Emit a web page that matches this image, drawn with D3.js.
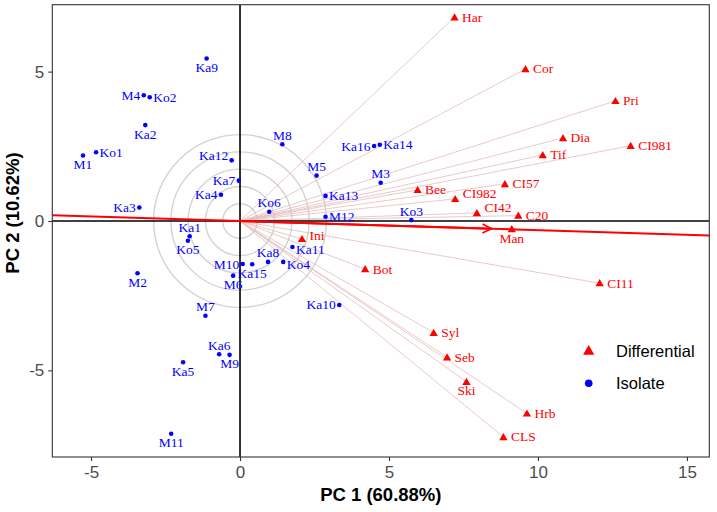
<!DOCTYPE html>
<html>
<head>
<meta charset="utf-8">
<script src="https://cdn.jsdelivr.net/npm/d3@7"></script>
<style>
  html, body { margin: 0; padding: 0; background: #fff; }
  svg { display: block; }
</style>
</head>
<body>
<script>
// ---------------- data ----------------
const isoNames = ["Ka9","M4","Ko2","Ka2","Ko1","M1","Ka12","M8","Ka16","Ka14","M5","M3","Ka13","Ko6","M12","Ko3","Ka11","Ka8","Ko4","M10","Ka15","M6","Ka7","Ka4","Ka3","Ka1","Ko5","M2","M7","Ka6","M9","Ka5","M11","Ka10"];
const isoPC1 = [-1.12,-3.23,-3.03,-3.18,-4.83,-5.27,-0.28,1.42,4.50,4.69,2.57,4.72,2.87,0.98,2.87,5.75,1.76,0.94,1.45,0.09,0.41,-0.23,-0.04,-0.64,-3.38,-1.69,-1.75,-3.44,-1.16,-0.70,-0.35,-1.91,-2.31,3.33];
const isoPC2 = [5.44,4.21,4.14,3.21,2.30,2.19,2.03,2.57,2.51,2.55,1.52,1.28,0.84,0.31,0.14,0.03,-0.87,-1.37,-1.37,-1.44,-1.45,-1.83,1.35,0.88,0.45,-0.51,-0.66,-1.75,-3.17,-4.46,-4.48,-4.73,-7.12,-2.81];
// label side relative to the point: r = right, l = left, t = top, b = bottom,
// lt = left & raised, rt / ru = right & raised, rb = right & lowered
const isoLabelSide = ["b","l","r","b","r","b","lt","t","l","r","t","t","r","t","r","t","rb","t","rb","l","b","b","l","l","l","t","b","b","t","t","b","b","b","l"];

const difNames = ["Har","Cor","Pri","Dia","Tif","CI981","CI57","CI982","CI42","C20","Man","Bee","Ini","Bot","CI11","Syl","Seb","Ski","Hrb","CLS"];
const difPC1 = [7.20,9.58,12.60,10.84,10.16,13.11,8.89,7.22,7.95,9.34,9.12,5.96,2.08,4.20,12.07,6.50,6.95,7.60,9.63,8.84];
const difPC2 = [6.82,5.09,4.02,2.78,2.21,2.52,1.24,0.74,0.27,0.18,-0.27,1.04,-0.60,-1.61,-2.08,-3.74,-4.56,-5.38,-6.44,-7.23];
const difLabelSide = ["r","r","r","r","r","r","r","ru","ru","r","b","r","rt","r","r","r","r","b","r","r"];

const meanVector = [8.44, -0.26];         // red direction arrow
const circleRadii = [0.58, 1.16, 1.74, 2.32, 2.90];
const xTicks = [-5, 0, 5, 10, 15];
const yTicks = [-5, 0, 5];
const xTitle = "PC 1 (60.88%)";
const yTitle = "PC 2 (10.62%)";
const legendLabels = ["Differential", "Isolate"];

// ---------------- layout ----------------
const W = 717, H = 512;
const panel = {left: 52.3, right: 709.3, top: 4.7, bottom: 457};
const x = d3.scaleLinear().domain([-6.3, 15.75]).range([panel.left, panel.right]);
const y = d3.scaleLinear().domain([-7.9, 7.24]).range([panel.bottom, panel.top]);

const svg = d3.select("body").append("svg").attr("width", W).attr("height", H);
const defs = svg.append("defs");
defs.append("clipPath").attr("id", "clip").append("rect")
  .attr("x", panel.left).attr("y", panel.top)
  .attr("width", panel.right - panel.left).attr("height", panel.bottom - panel.top);
defs.append("marker").attr("id", "arrow").attr("viewBox", "-10 -6 12 12")
  .attr("refX", 0).attr("refY", 0).attr("markerWidth", 12).attr("markerHeight", 12)
  .attr("markerUnits", "userSpaceOnUse").attr("orient", "auto")
  .append("path").attr("d", "M-9,-4.5 L0,0 L-9,4.5").attr("fill", "none")
  .attr("stroke", "#ff0000").attr("stroke-width", 1.6);

const g = svg.append("g").attr("clip-path", "url(#clip)");

// concentric circles
const pxPerUnit = x(1) - x(0);
g.selectAll("circle.ring").data(circleRadii).enter().append("circle")
  .attr("class", "ring").attr("cx", x(0)).attr("cy", y(0))
  .attr("r", d => d * pxPerUnit)
  .attr("fill", "none").attr("stroke", "#d3d3d3").attr("stroke-width", 1.4);

// loading segments
const dif = difNames.map((n, i) => ({name: n, x: difPC1[i], y: difPC2[i], side: difLabelSide[i]}));
g.selectAll("line.load").data(dif).enter().append("line")
  .attr("x1", x(0)).attr("y1", y(0))
  .attr("x2", d => x(d.x)).attr("y2", d => y(d.y))
  .attr("stroke", "#e3bcbc").attr("stroke-width", 0.8);

// zero lines
g.append("line").attr("x1", x(0)).attr("x2", x(0)).attr("y1", panel.top).attr("y2", panel.bottom)
  .attr("stroke", "#000").attr("stroke-width", 1.6);
g.append("line").attr("x1", panel.left).attr("x2", panel.right).attr("y1", y(0)).attr("y2", y(0))
  .attr("stroke", "#000").attr("stroke-width", 1.6);

// red direction line through origin + arrow
const slope = meanVector[1] / meanVector[0];
const xd = x.domain();
g.append("line").attr("x1", x(xd[0])).attr("y1", y(slope * xd[0]))
  .attr("x2", x(xd[1])).attr("y2", y(slope * xd[1]))
  .attr("stroke", "#ff0000").attr("stroke-width", 2);
g.append("line").attr("x1", x(0)).attr("y1", y(0))
  .attr("x2", x(meanVector[0])).attr("y2", y(meanVector[1]))
  .attr("stroke", "#ff0000").attr("stroke-width", 2).attr("marker-end", "url(#arrow)");

// triangles
const tri = d3.symbol().type(d3.symbolTriangle).size(30);
g.selectAll("path.dif").data(dif).enter().append("path")
  .attr("transform", d => `translate(${x(d.x)},${y(d.y) + 0.8})`)
  .attr("d", tri).attr("fill", "#ff0000");

// isolates
const iso = isoNames.map((n, i) => ({name: n, x: isoPC1[i], y: isoPC2[i], side: isoLabelSide[i]}));
g.selectAll("circle.iso").data(iso).enter().append("circle")
  .attr("cx", d => x(d.x)).attr("cy", d => y(d.y)).attr("r", 2.3).attr("fill", "#0000ff");

// labels
const sideRules = {
  r:  {h: 1,  dy: 4.5},
  rt: {h: 1,  dy: 1.5},
  ru: {h: 1,  dy: -0.5},
  rb: {h: 1,  dy: 7},
  l:  {h: -1, dy: 4.5},
  lt: {h: -1, dy: -0.5},
  t:  {h: 0,  dy: -4.5},
  b:  {h: 0,  dy: 13.5}
};
function placeLabel(sel, gap) {
  sel.each(function(d) {
    const rule = sideRules[d.side];
    const px = x(d.x), py = y(d.y);
    d3.select(this)
      .attr("x", px + rule.h * gap)
      .attr("y", py + rule.dy)
      .attr("text-anchor", rule.h > 0 ? "start" : rule.h < 0 ? "end" : "middle");
  });
}
const labelFont = "'Liberation Serif', 'Times New Roman', serif";
g.selectAll("text.iso").data(iso).enter().append("text")
  .attr("font-family", labelFont).attr("font-size", 13.5).attr("fill", "#0000ff")
  .text(d => d.name).call(placeLabel, 3.5);
g.selectAll("text.dif").data(dif).enter().append("text")
  .attr("font-family", labelFont).attr("font-size", 13.5).attr("fill", "#ff0000")
  .text(d => d.name).call(placeLabel, 7.5);

// panel border
svg.append("rect").attr("x", panel.left).attr("y", panel.top)
  .attr("width", panel.right - panel.left).attr("height", panel.bottom - panel.top)
  .attr("fill", "none").attr("stroke", "#333").attr("stroke-width", 1.1);

// axes
const sans = "'Liberation Sans', Arial, sans-serif";
const fmt = d => d < 0 ? "-" + Math.abs(d) : String(d);
const xAxis = svg.append("g").attr("transform", `translate(0,${panel.bottom})`)
  .call(d3.axisBottom(x).tickValues(xTicks).tickSize(4).tickPadding(5).tickFormat(fmt));
const yAxis = svg.append("g").attr("transform", `translate(${panel.left},0)`)
  .call(d3.axisLeft(y).tickValues(yTicks).tickSize(4).tickPadding(4).tickFormat(fmt));
[xAxis, yAxis].forEach(a => {
  a.select(".domain").remove();
  a.selectAll(".tick line").attr("stroke", "#333").attr("stroke-width", 1.1);
  a.selectAll(".tick text").attr("fill", "#4d4d4d").attr("font-family", sans).attr("font-size", 17);
});

svg.append("text").attr("x", (panel.left + panel.right) / 2).attr("y", 501)
  .attr("text-anchor", "middle").attr("font-family", sans).attr("font-weight", "bold")
  .attr("font-size", 18.5).attr("fill", "#000").text(xTitle);
svg.append("text").attr("transform", "translate(19,213) rotate(-90)")
  .attr("text-anchor", "middle").attr("font-family", sans).attr("font-weight", "bold")
  .attr("font-size", 18.5).attr("fill", "#000").text(yTitle);

// legend
const legY = [350.5, 383.3];
const lg = svg.append("g");
lg.append("path").attr("transform", `translate(588.7,${legY[0] + 1})`)
  .attr("d", d3.symbol().type(d3.symbolTriangle).size(55)).attr("fill", "#ff0000");
lg.append("circle").attr("cx", 588.7).attr("cy", legY[1]).attr("r", 3.8).attr("fill", "#0000ff");
lg.selectAll("text").data(legendLabels).enter().append("text")
  .attr("x", 616).attr("y", (d, i) => legY[i] + 6)
  .attr("font-family", sans).attr("font-size", 16.5).attr("fill", "#000").text(d => d);
</script>
</body>
</html>
